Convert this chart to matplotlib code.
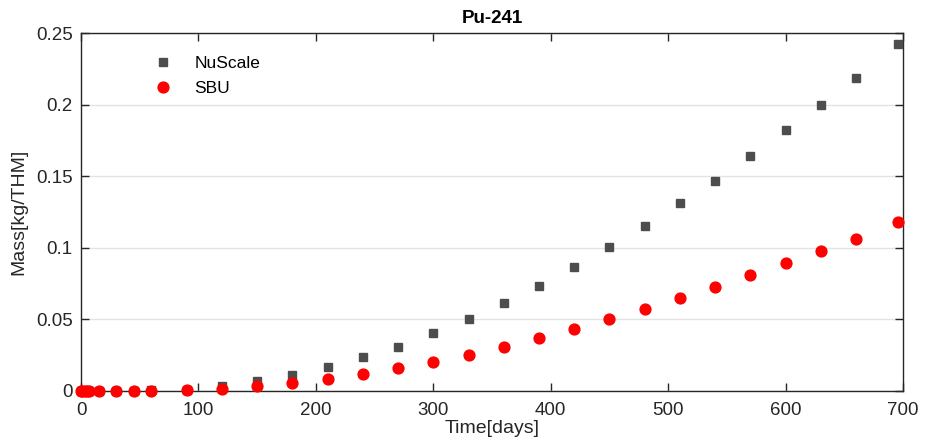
import matplotlib.pyplot as plt
import numpy as np

plt.rcParams['font.family'] = ['Liberation Sans', 'DejaVu Sans']

days = [0, 1, 3, 5, 7, 15, 30, 45, 60, 90, 120, 150, 180, 210, 240, 270, 300,
        330, 360, 390, 420, 450, 480, 510, 540, 570, 600, 630, 660, 696]

nuscale = [0, 0, 0, 0, 0, 0.00005, 0.0001, 0.0002, 0.0004, 0.0009, 0.0035, 0.0072,
           0.0115, 0.0167, 0.0235, 0.031, 0.0403, 0.050, 0.0613, 0.0732, 0.0865,
           0.1005, 0.1155, 0.131, 0.147, 0.164, 0.182, 0.200, 0.2185, 0.2423]

sbu = [0, 0, 0, 0, 0, 0.00003, 0.00005, 0.0001, 0.0002, 0.0005, 0.0015, 0.0032,
       0.0055, 0.0085, 0.012, 0.0158, 0.020, 0.0252, 0.0308, 0.0368, 0.0432,
       0.050, 0.0572, 0.0647, 0.0725, 0.0807, 0.0892, 0.0977, 0.1065, 0.1177]

fig = plt.figure(figsize=(9.3, 4.47), dpi=100)
ax = fig.add_axes([0.0871, 0.1253, 0.8839, 0.8007])

ax.plot(days, nuscale, 's', color='#4d4d4d', markersize=6, label='NuScale', clip_on=False, zorder=3)
ax.plot(days, sbu, 'o', color='#ff0000', markersize=7.8, label='SBU', clip_on=False, zorder=4)

ax.set_xlim(0, 700)
ax.set_ylim(0, 0.25)
ax.set_xticks([0, 100, 200, 300, 400, 500, 600, 700])
ax.set_yticks([0, 0.05, 0.1, 0.15, 0.2, 0.25])
ax.set_yticklabels(['0', '0.05', '0.1', '0.15', '0.2', '0.25'])
ax.grid(axis='y', color='#e3e3e3', linewidth=1)
ax.set_axisbelow(True)

ax.tick_params(direction='in', top=True, right=True, length=6, width=1,
               labelsize=13.5, colors='#262626', labelcolor='#262626')
ax.tick_params(axis='x', pad=8)
ax.tick_params(axis='y', pad=6)
for s in ax.spines.values():
    s.set_color('#262626')
    s.set_linewidth(1)

ax.set_title('Pu-241', fontsize=13.5, fontweight='bold', pad=7)
ax.set_xlabel('Time[days]', fontsize=14, labelpad=1, color='#262626')
ax.set_ylabel('Mass[kg/THM]', fontsize=14, labelpad=6, color='#262626')

ax.legend(loc='upper left', bbox_to_anchor=(0.06, 0.98), frameon=False, fontsize=12.5,
          handletextpad=0.8, labelspacing=0.55)

fig.savefig('out.png')
